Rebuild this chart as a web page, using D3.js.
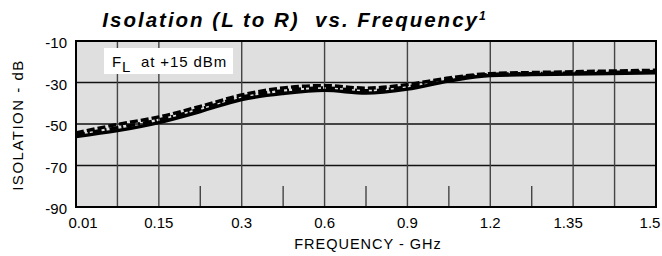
<!DOCTYPE html>
<html>
<head>
<meta charset="utf-8">
<script src="https://cdn.jsdelivr.net/npm/d3@7"></script>
<style>
  body { margin: 0; background: #fff; }
  svg { display: block; font-family: "Liberation Sans", Arial, Helvetica, sans-serif; }
</style>
</head>
<body>
<div id="chart"></div>
<script>
// x axis is non-uniform: labelled frequencies sit at equal spacing
const freqTicks = [0.01, 0.15, 0.3, 0.6, 0.9, 1.2, 1.35, 1.5];
const extraGrid = [0.08, 1.425];
const minorTicks = [0.225, 0.45, 0.75, 1.05, 1.275];
const dbTicks = [-10, -30, -50, -70, -90];

const freqs = [0.01, 0.08, 0.15, 0.225, 0.3, 0.45, 0.6, 0.75, 0.9, 1.05, 1.2, 1.275, 1.35, 1.5];
const isoSolid  = [-56.0, -53.2, -49.3, -44.0, -38.2, -35.3, -33.8, -35.1, -33.2, -29.3, -26.6, -26.2, -25.9, -25.3];
const isoDashed = [-54.3, -50.2, -46.6, -41.5, -36.0, -32.6, -31.5, -32.7, -31.0, -27.8, -25.7, -25.2, -24.8, -24.1];
const isoDashDot = [-55.2, -51.8, -48.0, -42.8, -37.1, -34.0, -32.6, -34.0, -32.1, -28.6, -26.1, -25.7, -25.4, -24.7];

const W = 662, H = 256;
const margin = { left: 76, right: 6, top: 41, bottom: 49 };
const plotW = W - margin.left - margin.right;
const plotH = H - margin.top - margin.bottom;

const svg = d3.select("#chart").append("svg")
    .attr("width", W)
    .attr("height", H);

const x = d3.scaleLinear()
    .domain(freqTicks)
    .range(freqTicks.map((d, i) => margin.left + i * plotW / (freqTicks.length - 1)));
const y = d3.scaleLinear()
    .domain([-90, -10])
    .range([margin.top + plotH, margin.top]);

// Title
const title = svg.append("text")
    .attr("x", 294)
    .attr("y", 27)
    .attr("text-anchor", "middle")
    .attr("xml:space", "preserve")
    .style("white-space", "pre")
    .style("font-size", "20.5px")
    .style("font-weight", "bold")
    .style("font-style", "italic")
    .style("letter-spacing", "2px")
    .text("Isolation (L to R)  vs. Frequency");
title.append("tspan")
    .attr("dy", -7)
    .style("font-size", "12px")
    .style("letter-spacing", "0px")
    .text("1");

// Plot background
svg.append("rect")
    .attr("x", margin.left)
    .attr("y", margin.top)
    .attr("width", plotW)
    .attr("height", plotH)
    .style("fill", "#dfdfdf");

// Horizontal grid
svg.selectAll(".hgrid")
    .data(dbTicks.slice(1, -1))
    .enter()
    .append("line")
    .attr("class", "hgrid")
    .attr("x1", margin.left)
    .attr("x2", margin.left + plotW)
    .attr("y1", d => y(d))
    .attr("y2", d => y(d))
    .style("stroke", "#111")
    .style("stroke-width", 1.4);

// Vertical grid
svg.selectAll(".vgrid")
    .data(freqTicks.slice(1, -1).concat(extraGrid))
    .enter()
    .append("line")
    .attr("class", "vgrid")
    .attr("x1", d => x(d))
    .attr("x2", d => x(d))
    .attr("y1", margin.top)
    .attr("y2", margin.top + plotH)
    .style("stroke", "#444")
    .style("stroke-width", 1.4);

// Short ticks rising from the bottom
svg.selectAll(".minor")
    .data(minorTicks)
    .enter()
    .append("line")
    .attr("class", "minor")
    .attr("x1", d => x(d))
    .attr("x2", d => x(d))
    .attr("y1", margin.top + plotH)
    .attr("y2", margin.top + plotH - 21)
    .style("stroke", "#444")
    .style("stroke-width", 1.4);

// Legend box
const leg = svg.append("g");
leg.append("rect")
    .attr("x", 104)
    .attr("y", 48)
    .attr("width", 129)
    .attr("height", 26)
    .style("fill", "#fff");
const legText = leg.append("text")
    .attr("x", 112)
    .attr("y", 67)
    .attr("xml:space", "preserve")
    .style("white-space", "pre")
    .style("font-size", "15px")
    .style("letter-spacing", "0.9px");
legText.append("tspan").text("F");
legText.append("tspan").attr("dy", 5).text("L");
legText.append("tspan").attr("dy", -5).text("  at +15 dBm");

// Curves
const line = d3.line()
    .x((d, i) => x(freqs[i]))
    .y(d => y(d))
    .curve(d3.curveMonotoneX);

const series = [
    { values: isoSolid, dash: null },
    { values: isoDashDot, dash: "9,3,2,3" },
    { values: isoDashed, dash: "8,3" }
];
series.forEach(s => {
    svg.append("path")
        .datum(s.values)
        .attr("d", line)
        .style("fill", "none")
        .style("stroke", "#000")
        .style("stroke-width", 3.4)
        .style("stroke-dasharray", s.dash);
});

// Border
svg.append("rect")
    .attr("x", margin.left)
    .attr("y", margin.top)
    .attr("width", plotW)
    .attr("height", plotH)
    .style("fill", "none")
    .style("stroke", "#000")
    .style("stroke-width", 2);

// Y tick labels
svg.selectAll(".ylab")
    .data(dbTicks)
    .enter()
    .append("text")
    .attr("class", "ylab")
    .attr("x", 67)
    .attr("y", d => y(d) + 2)
    .attr("dy", "0.35em")
    .attr("text-anchor", "end")
    .style("font-size", "15px")
    .text(d => d);

// X tick labels (end labels nudged inward)
svg.selectAll(".xlab")
    .data(freqTicks)
    .enter()
    .append("text")
    .attr("class", "xlab")
    .attr("x", (d, i) => x(d) + (i === 0 ? 7 : i === freqTicks.length - 1 ? -6 : i === freqTicks.length - 2 ? -5 : 0))
    .attr("y", 228)
    .attr("text-anchor", "middle")
    .style("font-size", "15px")
    .text(d => d);

// Axis titles
svg.append("text")
    .attr("x", 368)
    .attr("y", 249)
    .attr("text-anchor", "middle")
    .style("font-size", "14.5px")
    .style("letter-spacing", "1px")
    .text("FREQUENCY - GHz");

svg.append("text")
    .attr("transform", "translate(23,125) rotate(-90)")
    .attr("text-anchor", "middle")
    .style("font-size", "15px")
    .style("letter-spacing", "1.5px")
    .text("ISOLATION - dB");
</script>
</body>
</html>
